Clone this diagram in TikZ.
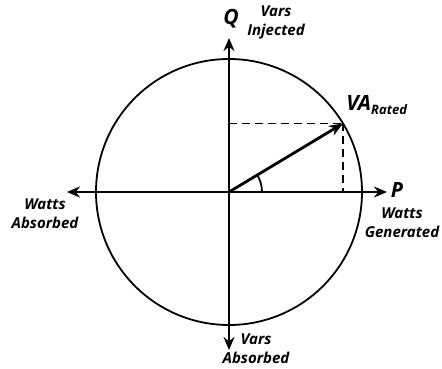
\documentclass[tikz,border=0pt]{standalone}
\usepackage{fontspec}
\setsansfont{Open Sans}
\usetikzlibrary{arrows.meta,calc}

\begin{document}
\begin{tikzpicture}[
  x=1pt, y=1pt,
  font=\sffamily\bfseries\itshape,
  axis/.style={line width=2.8pt, -{Stealth[length=13pt,width=11pt]}},
  vec/.style={line width=2.8pt, -{Stealth[length=14pt,width=11pt]}},
  guide/.style={line width=1.6pt, dash pattern=on 8pt off 5pt},
  lbl/.style={font=\sffamily\bfseries\itshape\fontsize{15}{19}\selectfont, align=center, inner sep=0pt},
  big/.style={font=\sffamily\bfseries\itshape\fontsize{21}{24}\selectfont, inner sep=0pt}
]
\useasboundingbox (-229,-177) rectangle (213,192);

%% Origin and end points
\coordinate (O)  at (0,0);
\coordinate (pl) at (-162,0);
\coordinate (pr) at (158,0);
\coordinate (qt) at (0,154);
\coordinate (qb) at (0,-158);
\coordinate (va) at (31:133);
\coordinate (vp) at (O |- va);
\coordinate (vq) at (va |- O);

%% Rating circle
\draw[line width=1.8pt] (O) circle (133);

%% Projections of the rated point
\draw[guide] (vp) -- (va);
\draw[guide] (va) -- (vq);

%% Axes
\draw[axis] (O) -- (pr);
\draw[axis] (O) -- (pl);
\draw[axis] (O) -- (qt);
\draw[axis] (O) -- (qb);

%% Rated vector and its angle
\draw[vec] (O) -- (va);
\draw[line width=1.8pt] (33,0) arc (0:31:33);

%% Labels
\node[big] (Q) at (2,173) {Q};
\node[lbl] (inj) at (47,170) {Vars\\Injected};
\node[big] (VA) at (148,87) {VA\textsubscript{\fontsize{13}{15}\selectfont Rated}};
\node[big] (P) at (168,2) {P};
\node[lbl] (gen) at (173,-31) {Watts\\Generated};
\node[lbl] (abs) at (-184,-22) {Watts\\Absorbed};
\node[lbl] (vab) at (27,-157) {Vars\\Absorbed};

\end{tikzpicture}
\end{document}
